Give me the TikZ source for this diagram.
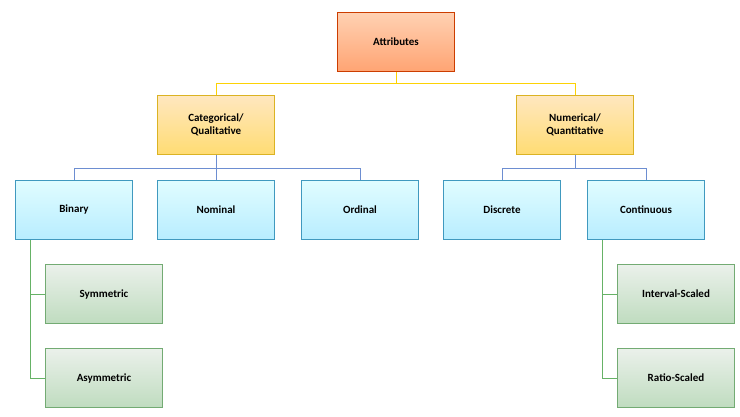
\documentclass[tikz,border=0pt]{standalone}
\usepackage{fontspec}
\setmainfont{Carlito}
\begin{document}
\begin{tikzpicture}[x=1pt,y=-1pt,
 box/.style={minimum width=117pt,minimum height=59pt,align=center,font=\bfseries\fontsize{11}{13}\selectfont,draw,line width=0.6pt},
 org/.style={box,draw=orange!60!red!80!black,top color=red!20!orange!30,bottom color=red!30!orange!55},
 yel/.style={box,draw=yellow!60!orange!85!black,top color=yellow!25!orange!25,bottom color=yellow!50!orange!55},
 blu/.style={box,draw=blue!30!cyan!50!gray,top color=blue!8!cyan!12,bottom color=blue!25!cyan!28},
 grn/.style={box,draw=green!40!black!55,top color=green!30!black!8!white,bottom color=green!45!black!25!white},
 yl/.style={draw=yellow!70!orange,line width=0.8pt},
 bl/.style={draw=cyan!40!blue!60,line width=0.8pt},
 gl/.style={draw=green!50!black!60,line width=0.8pt}]
\useasboundingbox (0,0) rectangle (740,416);
\node[org] (att) at (396,42) {Attributes};
\node[yel] (cat) at (216,125) {Categorical/\\Qualitative};
\node[yel] (num) at (575,125) {Numerical/\\Quantitative};
\node[blu] (bin) at (74,210) {Binary};
\node[blu] (nom) at (216,210) {Nominal};
\node[blu] (ord) at (360,210) {Ordinal};
\node[blu] (dis) at (502,210) {Discrete};
\node[blu] (con) at (646,210) {Continuous};
\node[grn] (sym) at (104,294) {Symmetric};
\node[grn] (asy) at (104,378) {Asymmetric};
\node[grn] (int) at (676,294) {Interval-Scaled};
\node[grn] (rat) at (676,378) {Ratio-Scaled};
\draw[yl] (att.south) -- (396,83) -| (cat.north);
\draw[yl] (396,83) -| (num.north);
\draw[bl] (cat.south) -- (216,168) -| (bin.north);
\draw[bl] (216,168) -| (ord.north);
\draw[bl] (cat.south) -- (nom.north);
\draw[bl] (num.south) -- (575,168) -| (dis.north);
\draw[bl] (575,168) -| (con.north);
\draw[gl] (bin.south -| 30,0) -- (30,378) -- (asy.west);
\draw[gl] (30,294) -- (sym.west);
\draw[gl] (con.south -| 602,0) -- (602,378) -- (rat.west);
\draw[gl] (602,294) -- (int.west);
\end{tikzpicture}
\end{document}
